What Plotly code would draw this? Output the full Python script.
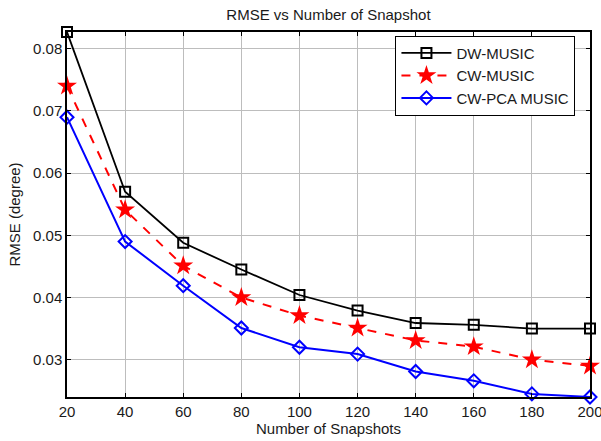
import plotly.graph_objects as go

snapshots = [20, 40, 60, 80, 100, 120, 140, 160, 180, 200]
dw_music = [0.0827, 0.0570, 0.0488, 0.0445, 0.0404, 0.0379, 0.0359, 0.0356, 0.0350, 0.0350]
cw_music = [0.0740, 0.0541, 0.0451, 0.0400, 0.0371, 0.0351, 0.0331, 0.0321, 0.0300, 0.0290]
cw_pca_music = [0.0690, 0.0490, 0.0419, 0.0351, 0.0320, 0.0309, 0.0281, 0.0266, 0.0245, 0.0240]
x_ticks = [20, 40, 60, 80, 100, 120, 140, 160, 180, 200]
y_ticks = [0.03, 0.04, 0.05, 0.06, 0.07, 0.08]
y_tick_text = ["0.03", "0.04", "0.05", "0.06", "0.07", "0.08"]

FONT = "Liberation Sans, Arial"
TXT = "#1a1a1a"

fig = go.Figure()
fig.add_trace(go.Scatter(
    x=snapshots, y=dw_music, name="DW-MUSIC", mode="lines+markers", cliponaxis=False,
    line=dict(color="black", width=1.8),
    marker=dict(symbol="square-open", size=10, color="black", line=dict(width=2)),
))
fig.add_trace(go.Scatter(
    x=snapshots, y=cw_music, name="CW-MUSIC", mode="lines+markers", cliponaxis=False,
    line=dict(color="red", width=2, dash="dash"),
    marker=dict(symbol="star", size=15, color="red", line=dict(width=0)),
))
fig.add_trace(go.Scatter(
    x=snapshots, y=cw_pca_music, name="CW-PCA MUSIC", mode="lines+markers", cliponaxis=False,
    line=dict(color="blue", width=2),
    marker=dict(symbol="diamond-open", size=10, color="blue", line=dict(width=2)),
))

axis_common = dict(
    showline=True, linecolor="black", linewidth=1.5, mirror="allticks",
    ticks="inside", ticklen=4, tickcolor="black",
    showgrid=True, gridcolor="#bdbdbd", gridwidth=1,
    zeroline=False, automargin=False, ticklabeloverflow="allow",
    tickfont=dict(family=FONT, size=15, color=TXT),
)

fig.update_layout(
    width=601, height=441,
    margin=dict(l=67, r=11, t=32, b=44),
    paper_bgcolor="white", plot_bgcolor="white",
    title=dict(text="RMSE vs Number of Snapshot", x=0.5465, xanchor="center",
               y=1 - 15 / 441, yanchor="middle",
               font=dict(family=FONT, size=15, color=TXT)),
    xaxis=dict(range=[20, 200], tickvals=x_ticks,
               title=dict(text="Number of Snapshots", standoff=2,
                          font=dict(family=FONT, size=15, color=TXT)),
               **axis_common),
    yaxis=dict(range=[0.024, 0.0827], tickvals=y_ticks, ticktext=y_tick_text,
               title=dict(text="RMSE (degree)", standoff=9,
                          font=dict(family=FONT, size=15, color=TXT)),
               **axis_common),
    legend=dict(x=0.628, y=0.99, xanchor="left", yanchor="top",
                bgcolor="white", bordercolor="black", borderwidth=1,
                font=dict(family=FONT, size=15, color=TXT),
                tracegroupgap=0, itemwidth=50),
    showlegend=True,
)

fig.write_html("out.html", config={"displayModeBar": False},
               post_script="document.body.style.margin='0';")
